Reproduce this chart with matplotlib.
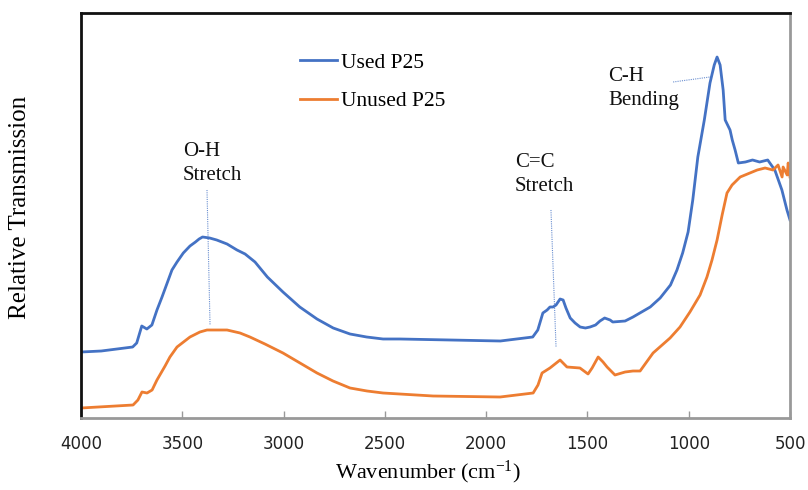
"""FTIR spectra of used vs unused P25, relative transmission against wavenumber."""

import matplotlib.pyplot as plt
import numpy as np

plt.rcParams["mathtext.fontset"] = "custom"
plt.rcParams["mathtext.rm"] = "Liberation Serif"
plt.rcParams["mathtext.it"] = "Liberation Serif:italic"

SERIF = "Liberation Serif"

# Used P25 (blue) spectrum
used_wn = [4000, 3900, 3745, 3725, 3700, 3675, 3650, 3625, 3600, 3551, 3526,
           3495, 3462, 3435, 3417, 3400, 3365, 3330, 3279, 3230, 3190, 3141,
           3080, 3003, 2920, 2835, 2755, 2672, 2590, 2509, 2425, 1930,
           1770, 1745, 1720, 1699, 1685, 1670, 1655, 1635, 1620, 1606, 1585,
           1561, 1536, 1510, 1487, 1460, 1438, 1415, 1388, 1375, 1314, 1275,
           1190, 1141, 1090, 1058, 1030, 1003, 980, 955, 923, 895, 874, 860,
           845, 830, 820, 796, 785, 771, 755, 720, 685, 650, 610, 575, 540,
           515, 500]
used_tr = [66, 67, 71, 75, 92, 89, 93, 108, 121, 148, 156,
           165, 172, 176, 179, 181, 180, 178, 174, 168, 164, 156,
           141, 126, 111, 99, 90, 84, 81, 79, 79, 77,
           81, 88, 105, 108, 111, 111, 113, 119, 118, 110, 100,
           95, 91, 90, 91, 93, 97, 100, 98, 96, 97, 101,
           111, 120, 133, 148, 165, 186, 218, 261, 298, 335, 353, 361,
           353, 328, 298, 288, 278, 268, 255, 256, 258, 256, 258, 248, 228,
           208, 198]

# Unused P25 (orange) spectrum
unused_wn = [4000, 3743, 3719, 3699, 3674, 3649, 3625, 3585, 3561, 3526, 3462,
             3413, 3378, 3279, 3215, 3166, 3092, 3003, 2919, 2835, 2756, 2672,
             2588, 2509, 2262, 1931, 1768, 1744, 1724, 1685, 1635, 1601, 1537,
             1497, 1477, 1447, 1423, 1403, 1364, 1314, 1275, 1240, 1176, 1092,
             1043, 994, 944, 910, 885, 860, 835, 811, 786, 746, 662, 623, 584,
             559, 539, 534, 514, 509, 500]
unused_tr = [10, 13, 18, 26, 25, 28, 38, 52, 61, 71, 81,
             86, 88, 88, 85, 81, 74, 65, 55, 45, 37, 30,
             27, 25, 22, 21, 25, 33, 45, 50, 58, 51, 50,
             44, 50, 61, 56, 51, 43, 46, 47, 47, 65, 80,
             91, 106, 123, 141, 158, 178, 203, 225, 233, 241, 248, 250, 248,
             253, 241, 251, 243, 255, 241]

series_names = ["Used P25", "Unused P25"]
series_colors = ["#4472C4", "#ED7D31"]
x_ticks = [4000, 3500, 3000, 2500, 2000, 1500, 1000, 500]

# band labels: text, anchor (wavenumber, value), leader line ends
bands = [
    ("O-H\nStretch", (3496, 276), (3378, 228), (3363, 93)),
    ("C=C\nStretch", (1857, 265), (1680, 208), (1655, 71)),
    ("C-H\nBending", (1398, 351), (1077, 336), (895, 341)),
]

fig = plt.figure(figsize=(8.08, 4.90), dpi=100)
ax = fig.add_axes([81 / 808, 72 / 490, 709 / 808, 405 / 490])

ax.plot(used_wn, used_tr, color=series_colors[0], lw=2.0, label=series_names[0])
ax.plot(unused_wn, unused_tr, color=series_colors[1], lw=2.0, label=series_names[1])

for text, (tx, ty), (x1, y1), (x2, y2) in bands:
    ax.text(tx, ty, text, family=SERIF, fontsize=15, ha="left", va="top",
            linespacing=1.38, color="#111111")
    ax.plot([x1, x2], [y1, y2], color="#4472C4", lw=0.8, ls=(0, (1, 1)), alpha=0.8)

ax.set_xlim(4000, 500)
ax.set_ylim(0, 405)
ax.set_xticks(x_ticks)
ax.set_yticks([])
ax.tick_params(axis="x", direction="in", length=5, width=1, color="#999999",
               labelsize=12, labelcolor="#222222", pad=12)

for side in ["left", "top"]:
    ax.spines[side].set_color("#111111")
    ax.spines[side].set_linewidth(2)
for side in ["right", "bottom"]:
    ax.spines[side].set_color("#999999")
    ax.spines[side].set_linewidth(2)

ax.set_xlabel(r"Wavenumber (cm$^{\mathrm{-1}}$)", family=SERIF, fontsize=16)
ax.xaxis.set_label_coords(0.489, -0.1)
ax.set_ylabel("Relative Transmission", family=SERIF, fontsize=18)
ax.yaxis.set_label_coords(-0.07, 0.52)

ax.legend(loc="upper left", bbox_to_anchor=(0.309, 0.902), frameon=False,
          prop={"family": SERIF, "size": 15.5}, handlelength=1.7,
          handletextpad=0.2, labelspacing=0.85, borderpad=0, borderaxespad=0)

fig.savefig("out.png", dpi=100)
plt.close(fig)
